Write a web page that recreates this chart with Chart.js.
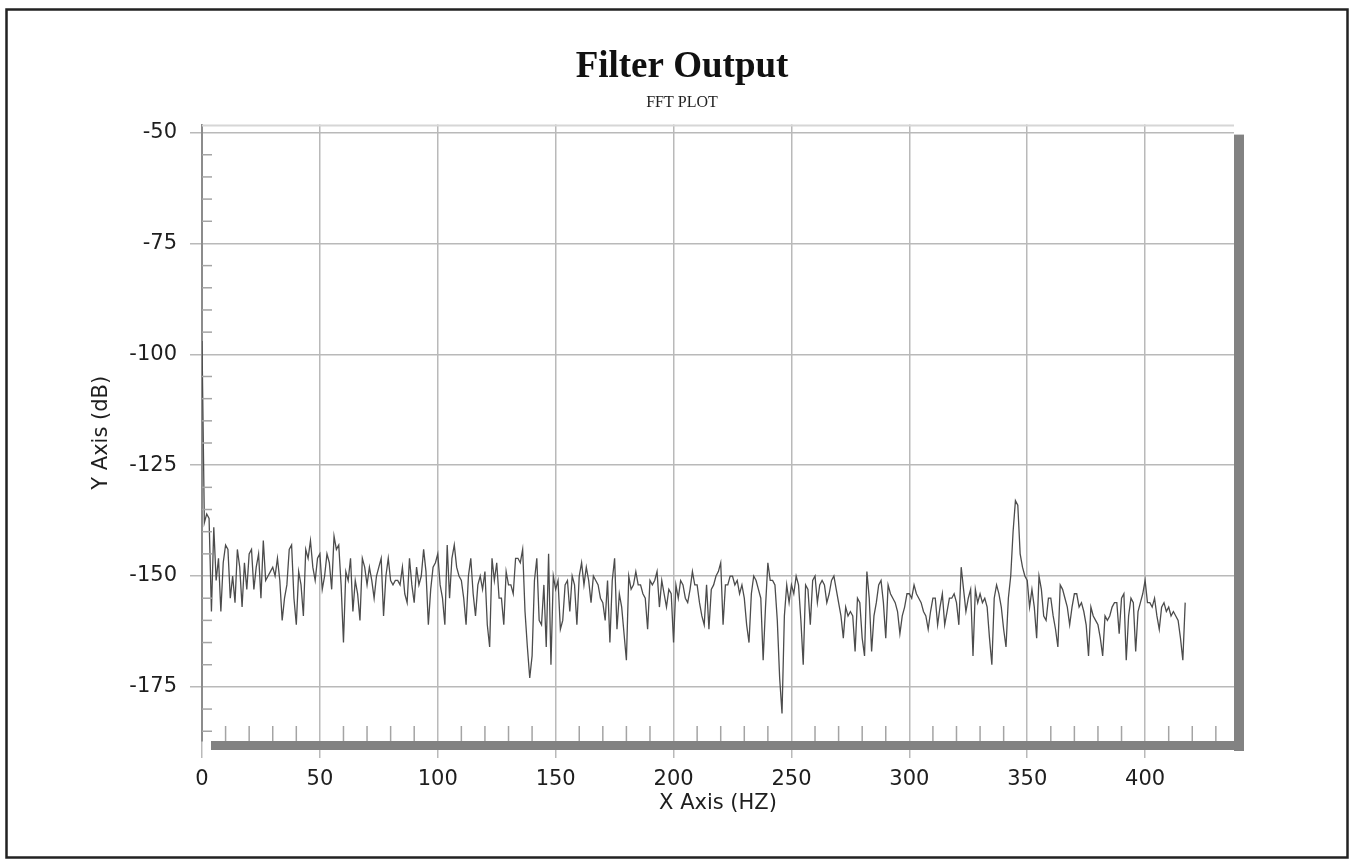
<!DOCTYPE html>
<html><head><meta charset="utf-8">
<script src="https://cdn.jsdelivr.net/npm/chart.js@4.4.1/dist/chart.umd.min.js"></script>
<style>html,body{margin:0;padding:0;background:#fff;} #wrap{width:1353px;height:865px;position:relative;}</style>
</head><body><div id="wrap"><canvas id="c" width="1353" height="865"></canvas></div>
<script>
const chartTitle = 'Filter Output';
const chartSubtitle = 'FFT PLOT';
const xAxisTitle = 'X Axis (HZ)';
const yAxisTitle = 'Y Axis (dB)';
const BIN_HZ = 1;
const dbValues = [
-97,-138,-136,-137,-158,-139,-151,-146,-158,-147,
-143,-144,-155,-150,-156,-144,-148,-157,-147,-153,
-145,-144,-153,-148,-145,-155,-142,-151,-150,-149,
-148,-150,-146,-151,-160,-155,-152,-144,-143,-155,
-161,-149,-152,-159,-144,-146,-142,-148,-151,-146,
-145,-153,-150,-145,-147,-153,-141,-144,-143,-152,
-165,-149,-151,-146,-158,-151,-154,-160,-146,-148,
-152,-148,-151,-155,-150,-148,-146,-159,-150,-146,
-151,-152,-151,-151,-152,-148,-154,-156,-146,-152,
-156,-148,-152,-150,-144,-149,-161,-153,-148,-147,
-145,-152,-155,-161,-143,-155,-146,-143,-148,-150,
-151,-155,-161,-150,-146,-154,-159,-152,-150,-153,
-149,-161,-166,-146,-151,-147,-155,-155,-161,-149,
-152,-152,-154,-146,-146,-147,-144,-158,-166,-173,
-168,-151,-146,-160,-161,-152,-166,-145,-170,-150,
-153,-151,-162,-160,-152,-151,-158,-150,-152,-161,
-150,-147,-152,-148,-151,-156,-150,-151,-152,-155,
-156,-160,-151,-165,-151,-146,-162,-154,-157,-163,
-169,-150,-153,-152,-149,-152,-152,-154,-155,-162,
-151,-152,-151,-149,-157,-151,-154,-157,-153,-154,
-165,-152,-155,-151,-152,-155,-156,-153,-149,-152,
-152,-156,-159,-161,-152,-162,-153,-152,-150,-149,
-147,-161,-152,-152,-150,-150,-152,-151,-154,-152,
-155,-161,-165,-154,-150,-151,-153,-155,-169,-157,
-147,-151,-151,-152,-160,-173,-181,-159,-152,-156,
-152,-154,-150,-152,-160,-170,-152,-153,-161,-151,
-150,-156,-152,-151,-152,-156,-154,-151,-150,-153,
-156,-159,-164,-157,-159,-158,-159,-167,-155,-156,
-164,-168,-149,-155,-167,-159,-156,-152,-151,-156,
-164,-152,-154,-155,-156,-158,-163,-159,-157,-154,
-154,-155,-152,-154,-155,-156,-158,-159,-162,-158,
-155,-155,-161,-157,-154,-161,-158,-155,-155,-154,
-156,-161,-148,-153,-158,-155,-153,-168,-153,-156,
-154,-156,-155,-157,-164,-170,-155,-152,-154,-157,
-162,-166,-155,-150,-140,-133,-134,-145,-148,-150,
-151,-157,-153,-157,-164,-150,-153,-159,-160,-155,
-155,-159,-162,-166,-152,-153,-155,-157,-161,-157,
-154,-154,-157,-156,-158,-161,-168,-157,-159,-160,
-161,-164,-168,-159,-160,-159,-157,-156,-156,-163,
-155,-154,-169,-159,-155,-156,-167,-158,-156,-154,
-151,-156,-156,-157,-155,-159,-162,-157,-156,-158,
-157,-159,-158,-159,-160,-164,-169,-156
];
const xMajorTicks = [0,50,100,150,200,250,300,350,400];
const xMinorTicks = [10,20,30,40,60,70,80,90,110,120,130,140,160,170,180,190,210,220,230,240,260,270,280,290,310,320,330,340,360,370,380,390,410,420,430];
const yMajorTicks = [-175,-150,-125,-100,-75,-50];
const yMinorTicks = [-185,-180,-170,-165,-160,-155,-145,-140,-135,-130,-120,-115,-110,-105,-95,-90,-85,-80,-70,-65,-60,-55];
const xRange = [0, 437.7];
const yRange = [-187.2, -48.2];

const points = dbValues.map((v, i) => ({x: i * BIN_HZ, y: v}));
const GRID = '#b9b9b9';
const TXT = '#1e1e1e';

const decor = {
  id: 'decor',
  afterDraw(chart) {
    const {ctx, chartArea: a, scales: {x, y}} = chart;
    ctx.save();
    ctx.strokeStyle = '#d6d6d6'; ctx.lineWidth = 2;
    ctx.beginPath(); ctx.moveTo(a.left, a.top + 1); ctx.lineTo(a.right, a.top + 1); ctx.stroke();
    ctx.strokeStyle = '#a4a4a4'; ctx.lineWidth = 1.5;
    yMinorTicks.forEach(v => {
      const py = y.getPixelForValue(v);
      ctx.beginPath(); ctx.moveTo(a.left, py); ctx.lineTo(a.left + 10, py); ctx.stroke();
    });
    xMinorTicks.forEach(v => {
      const px = x.getPixelForValue(v);
      ctx.beginPath(); ctx.moveTo(px, a.bottom); ctx.lineTo(px, a.bottom - 15); ctx.stroke();
    });
    ctx.fillStyle = '#828282';
    ctx.fillRect(a.right, a.top + 10, 10, a.bottom - a.top);
    ctx.fillRect(a.left + 9, a.bottom, a.right - a.left + 1, 9);
    ctx.strokeStyle = '#222'; ctx.lineWidth = 2.5;
    ctx.strokeRect(6.5, 9.5, 1341, 848);
    ctx.restore();
  }
};

new Chart(document.getElementById('c'), {
  type: 'line',
  data: { datasets: [{ data: points, borderColor: '#4c4c4c', borderWidth: 1.3, pointRadius: 0, tension: 0, fill: false }] },
  options: {
    responsive: false, animation: false, events: [],
    layout: { padding: { left: 130, right: 119, top: 45, bottom: 0 } },
    plugins: {
      legend: { display: false }, tooltip: { enabled: false },
      title: { display: true, text: chartTitle, color: '#111', font: { family: 'Liberation Serif', size: 37, weight: 'bold' }, padding: { top: 0, bottom: 0 } },
      subtitle: { display: true, text: chartSubtitle, color: '#222', font: { family: 'Liberation Serif', size: 16 }, padding: { top: 4, bottom: 12 } }
    },
    scales: {
      x: {
        type: 'linear', min: xRange[0], max: xRange[1],
        afterBuildTicks: s => { s.ticks = xMajorTicks.map(v => ({value: v})); },
        afterFit: s => { s.height = 124; },
        grid: { color: GRID, lineWidth: 1.5, tickLength: 17 },
        border: { display: false },
        ticks: { color: TXT, font: { family: 'DejaVu Sans', size: 21 }, padding: 9, maxRotation: 0, autoSkip: false },
        title: { display: true, text: xAxisTitle, color: TXT, font: { family: 'DejaVu Sans', size: 21 }, padding: { top: 0, bottom: 49 } }
      },
      y: {
        type: 'linear', min: yRange[0], max: yRange[1],
        afterBuildTicks: s => { s.ticks = yMajorTicks.map(v => ({value: v})); },
        afterFit: s => { s.width = 72; },
        grid: { color: GRID, lineWidth: 1.5, tickLength: 12 },
        border: { display: true, color: '#8c8c8c', width: 2 },
        ticks: { color: TXT, font: { family: 'DejaVu Sans', size: 21 }, padding: 13, autoSkip: false },
        title: { display: true, text: yAxisTitle, color: TXT, font: { family: 'DejaVu Sans', size: 21 }, padding: { top: -41, bottom: 0 } }
      }
    }
  },
  plugins: [decor]
});
</script></body></html>
